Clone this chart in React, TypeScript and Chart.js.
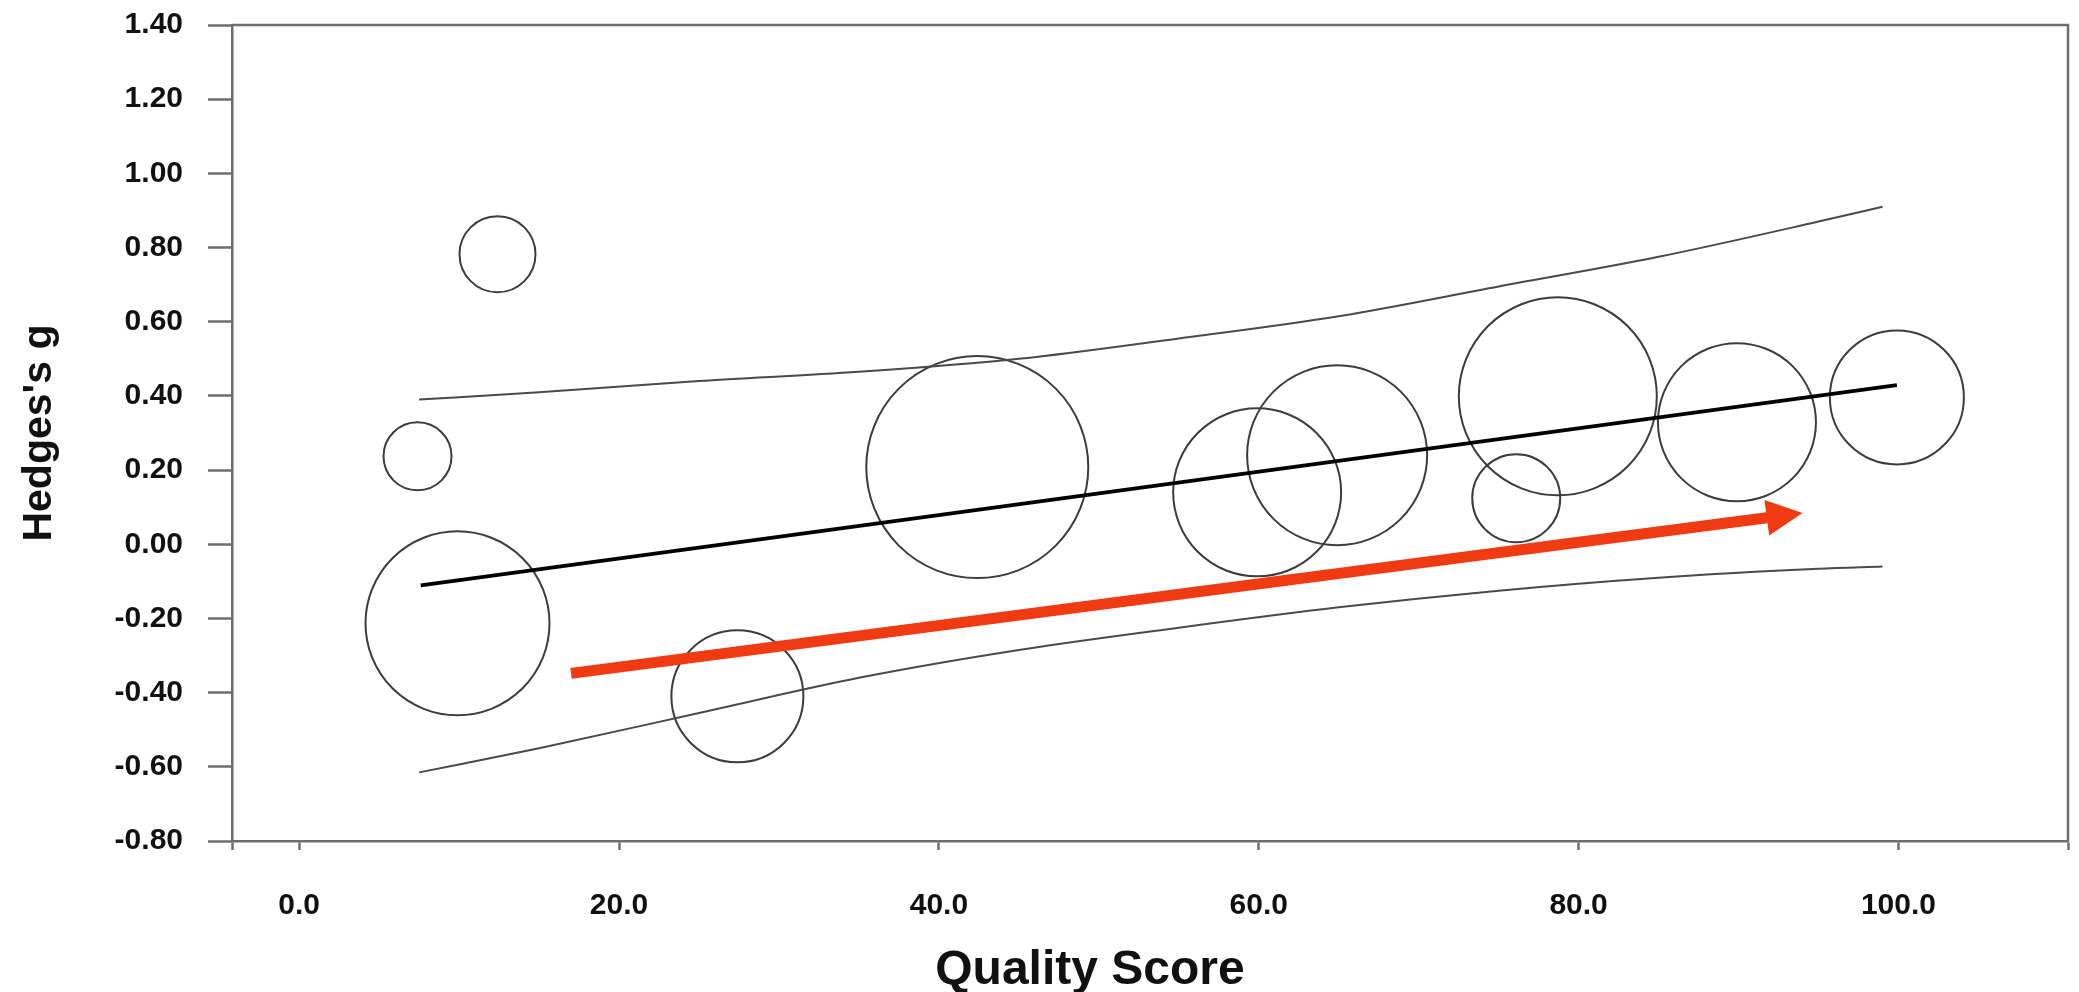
import React, { useEffect, useRef } from 'react';
import { Chart, registerables } from 'chart.js';

Chart.register(...registerables);

// Studies: quality score (x), effect size Hedges's g (y), study weight (bubble radius)
const qualityScores = [7.4, 12.4, 9.9, 27.4, 42.4, 59.9, 64.9, 76.1, 78.7, 89.9, 99.9];
const hedgesG = [0.237, 0.782, -0.213, -0.41, 0.208, 0.14, 0.24, 0.124, 0.399, 0.329, 0.396];
const studyWeights = [34, 38, 92, 66, 111, 84, 90, 44, 99, 79, 67];

// Meta-regression line
const regressionX = [7.6, 99.9];
const regressionY = [-0.111, 0.429];

// Confidence band
const ciX = [7.5, 15, 25, 35, 45, 55, 65, 75, 85, 95, 99];
const ciUpper = [0.39, 0.41, 0.44, 0.465, 0.5, 0.555, 0.615, 0.695, 0.775, 0.87, 0.91];
const ciLower = [-0.615, -0.55, -0.455, -0.36, -0.285, -0.225, -0.17, -0.125, -0.09, -0.066, -0.06];

// Trend arrow annotation (start, tip)
const arrowX = [17.0, 94.0];
const arrowY = [-0.348, 0.084];

// Axis ticks
const xTickValues = [0, 20, 40, 60, 80, 100];
const xMin = -4.2;
const xMax = 110.6;
const yMin = -0.8;
const yMax = 1.4;

const AXIS_GRAY = '#6e6e6e';
const FONT = '"Liberation Sans", Arial, sans-serif';

const framePlugin = {
  id: 'frame',
  afterDraw(chart: any) {
    const { ctx, chartArea } = chart;
    ctx.save();
    ctx.strokeStyle = AXIS_GRAY;
    ctx.lineWidth = 2.5;
    ctx.beginPath();
    ctx.moveTo(chartArea.left, chartArea.top);
    ctx.lineTo(chartArea.right, chartArea.top);
    ctx.lineTo(chartArea.right, chartArea.bottom);
    ctx.stroke();
    ctx.restore();
  },
};

const arrowPlugin = {
  id: 'trendArrow',
  afterDatasetsDraw(chart: any) {
    const { ctx } = chart;
    const xs = chart.scales.x;
    const ys = chart.scales.y;
    const x0 = xs.getPixelForValue(arrowX[0]);
    const y0 = ys.getPixelForValue(arrowY[0]);
    const x1 = xs.getPixelForValue(arrowX[1]);
    const y1 = ys.getPixelForValue(arrowY[1]);
    const ang = Math.atan2(y1 - y0, x1 - x0);
    const c = Math.cos(ang);
    const s = Math.sin(ang);
    const headLen = 36;
    const headHalf = 18;
    const bx = x1 - headLen * c;
    const by = y1 - headLen * s;
    ctx.save();
    ctx.strokeStyle = '#f03a12';
    ctx.fillStyle = '#f03a12';
    ctx.lineWidth = 11;
    ctx.lineCap = 'butt';
    ctx.beginPath();
    ctx.moveTo(x0, y0);
    ctx.lineTo(bx + 2 * c, by + 2 * s);
    ctx.stroke();
    ctx.beginPath();
    ctx.moveTo(x1, y1);
    ctx.lineTo(bx - headHalf * s, by + headHalf * c);
    ctx.lineTo(bx + headHalf * s, by - headHalf * c);
    ctx.closePath();
    ctx.fill();
    ctx.restore();
  },
};

export default function App() {
  const canvasRef = useRef<HTMLCanvasElement | null>(null);

  useEffect(() => {
    document.body.style.margin = '0';
    const canvas = canvasRef.current;
    if (!canvas) return;

    const bubbles = qualityScores.map((q, i) => ({ x: q, y: hedgesG[i], r: studyWeights[i] }));
    const regression = regressionX.map((x, i) => ({ x, y: regressionY[i] }));
    const upper = ciX.map((x, i) => ({ x, y: ciUpper[i] }));
    const lower = ciX.map((x, i) => ({ x, y: ciLower[i] }));

    const chart = new Chart(canvas, {
      type: 'bubble',
      data: {
        datasets: [
          {
            type: 'line',
            label: 'Regression',
            data: regression,
            borderColor: '#000000',
            borderWidth: 3.8,
            pointRadius: 0,
            fill: false,
          } as any,
          {
            type: 'line',
            label: 'Upper CI',
            data: upper,
            borderColor: '#4a4a4a',
            borderWidth: 2,
            pointRadius: 0,
            cubicInterpolationMode: 'monotone',
            fill: false,
          } as any,
          {
            type: 'line',
            label: 'Lower CI',
            data: lower,
            borderColor: '#4a4a4a',
            borderWidth: 2,
            pointRadius: 0,
            cubicInterpolationMode: 'monotone',
            fill: false,
          } as any,
          {
            type: 'bubble',
            label: 'Studies',
            data: bubbles,
            borderColor: '#3c3c3c',
            borderWidth: 2,
            backgroundColor: 'rgba(0,0,0,0)',
          } as any,
        ],
      },
      options: {
        responsive: false,
        animation: false,
        events: [],
        layout: { autoPadding: false, padding: { top: 25, right: 11, left: 0, bottom: 0 } },
        plugins: {
          legend: { display: false },
          tooltip: { enabled: false },
        },
        scales: {
          x: {
            type: 'linear',
            min: xMin,
            max: xMax,
            afterBuildTicks: (scale: any) => {
              scale.ticks = [xMin, ...xTickValues, xMax].map((v) => ({ value: v }));
            },
            afterFit: (scale: any) => {
              scale.height = 151;
              scale.paddingLeft = 0;
              scale.paddingRight = 0;
            },
            ticks: {
              autoSkip: false,
              maxRotation: 0,
              minRotation: 0,
              padding: 38,
              color: '#111111',
              font: { family: FONT, size: 30, weight: 'bold' },
              callback: (v: any) => (xTickValues.includes(Number(v)) ? Number(v).toFixed(1) : ''),
            },
            grid: {
              display: true,
              drawOnChartArea: false,
              drawTicks: true,
              tickLength: 9,
              tickWidth: 2.5,
              tickColor: AXIS_GRAY,
            },
            border: { display: true, color: AXIS_GRAY, width: 2.5 },
            title: {
              display: true,
              text: 'Quality Score\u00a0\u00a0\u00a0\u00a0\u00a0\u00a0\u00a0\u00a0\u00a0',
              color: '#111111',
              font: { family: FONT, size: 48, weight: 'bold', lineHeight: 0.9 },
              padding: { top: 0, bottom: 0 },
            },
          },
          y: {
            type: 'linear',
            min: yMin,
            max: yMax,
            afterFit: (scale: any) => {
              scale.width = 232;
              scale.paddingTop = 0;
              scale.paddingBottom = 0;
            },
            ticks: {
              stepSize: 0.2,
              padding: 25,
              color: '#111111',
              font: { family: FONT, size: 30, weight: 'bold' },
              callback: (v: any) => Number(v).toFixed(2),
            },
            grid: {
              display: true,
              drawOnChartArea: false,
              drawTicks: true,
              tickLength: 24,
              tickWidth: 2.5,
              tickColor: AXIS_GRAY,
            },
            border: { display: true, color: AXIS_GRAY, width: 2.5 },
            title: {
              display: true,
              text: "Hedges's g",
              color: '#111111',
              font: { family: FONT, size: 41, weight: 'bold' },
              padding: { top: 15, bottom: 0 },
            },
          },
        },
      } as any,
      plugins: [framePlugin, arrowPlugin],
    });

    return () => {
      chart.destroy();
    };
  }, []);

  return (
    <div style={{ width: 2079, height: 992, background: '#ffffff' }}>
      <canvas ref={canvasRef} width={2079} height={992} style={{ display: 'block' }} />
    </div>
  );
}
